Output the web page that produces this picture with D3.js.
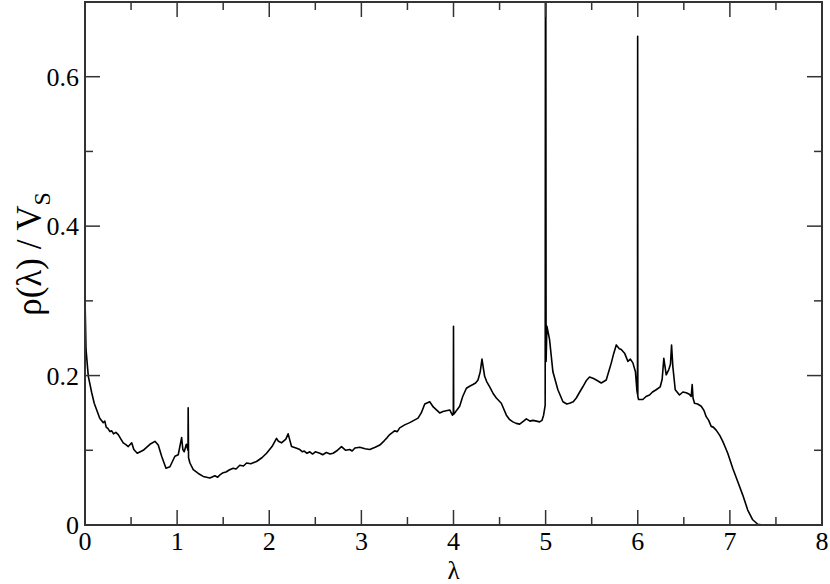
<!DOCTYPE html>
<html>
<head>
<meta charset="utf-8">
<script src="https://cdn.jsdelivr.net/npm/d3@7"></script>
<style>
  body { margin: 0; background: #fff; }
  svg { display: block; }
</style>
</head>
<body>
<svg width="830" height="584"></svg>
<script>
// spectral density
var lambda = [
  0, 0.011, 0.036, 0.073, 0.10, 0.127, 0.16, 0.198, 0.215, 0.23, 0.25, 0.271, 0.29, 0.31, 0.335, 0.361, 0.39, 0.415, 0.44, 0.470, 0.507,
  0.53, 0.567, 0.60, 0.632, 0.705, 0.759, 0.795, 0.832, 0.879, 0.922, 0.976, 1.012, 1.049, 1.062, 1.077,
  1.10, 1.118, 1.120, 1.124, 1.139, 1.175, 1.23, 1.283, 1.356, 1.41, 1.44, 1.464, 1.50, 1.53, 1.57, 1.608, 1.64, 1.68, 1.72, 1.754,
  1.80, 1.862, 1.92, 1.971, 2.03, 2.079, 2.10, 2.133, 2.18, 2.205, 2.242, 2.29, 2.332, 2.36, 2.38, 2.41, 2.440,
  2.47, 2.50, 2.549, 2.58, 2.62, 2.66, 2.693, 2.73, 2.784, 2.83, 2.874, 2.90, 2.93, 2.983, 3.04, 3.091, 3.15, 3.200, 3.25,
  3.28, 3.308, 3.36, 3.39, 3.416, 3.47, 3.525, 3.57, 3.615, 3.65, 3.688, 3.742, 3.78, 3.815, 3.85, 3.886, 3.92,
  3.959, 3.988, 3.998, 4.000, 4.002, 4.013, 4.067, 4.10, 4.140, 4.18, 4.211, 4.24, 4.266, 4.29, 4.309,
  4.338, 4.36, 4.393, 4.43, 4.465, 4.519, 4.574, 4.61, 4.645, 4.68, 4.718, 4.75, 4.791, 4.83, 4.862,
  4.90, 4.935, 4.96, 4.978, 4.995, 4.998, 5.002, 5.005, 5.014, 5.043, 5.079, 5.133, 5.188, 5.23, 5.260,
  5.30, 5.333, 5.37, 5.404, 5.44, 5.477, 5.52, 5.550, 5.604, 5.658, 5.713, 5.74, 5.767, 5.80,
  5.821, 5.857, 5.893, 5.92, 5.947, 5.975, 5.990, 5.997, 5.999, 6.001, 6.009, 6.055, 6.09, 6.128,
  6.16, 6.200, 6.244, 6.265, 6.283, 6.309, 6.337, 6.355, 6.367, 6.381, 6.407, 6.453, 6.49, 6.526,
  6.56, 6.580, 6.591, 6.600, 6.616, 6.65, 6.689, 6.72, 6.743, 6.77, 6.797, 6.82, 6.851, 6.89, 6.923, 6.95, 6.977, 7.031,
  7.086, 7.140, 7.194, 7.248, 7.303, 7.357
];
var rho = [
  0.304, 0.235, 0.199, 0.177, 0.163, 0.154, 0.143, 0.137, 0.139, 0.131, 0.129, 0.125, 0.126, 0.122, 0.124, 0.121, 0.115, 0.110, 0.108, 0.105, 0.110,
  0.101, 0.096, 0.098, 0.100, 0.108, 0.112, 0.107, 0.092, 0.076, 0.078, 0.092, 0.094, 0.117, 0.101, 0.098,
  0.108, 0.100, 0.157, 0.090, 0.083, 0.074, 0.069, 0.065, 0.063, 0.066, 0.064, 0.067, 0.070, 0.071, 0.074, 0.076, 0.075, 0.080, 0.079, 0.083,
  0.082, 0.085, 0.090, 0.096, 0.105, 0.116, 0.112, 0.110, 0.115, 0.122, 0.105, 0.103, 0.101, 0.098, 0.099, 0.096, 0.098,
  0.095, 0.098, 0.096, 0.094, 0.097, 0.095, 0.096, 0.099, 0.105, 0.100, 0.101, 0.099, 0.103, 0.104, 0.102, 0.101, 0.104, 0.107, 0.113,
  0.117, 0.121, 0.126, 0.125, 0.130, 0.134, 0.137, 0.140, 0.143, 0.150, 0.162, 0.165, 0.158, 0.154, 0.150, 0.152, 0.153,
  0.154, 0.147, 0.150, 0.266, 0.148, 0.150, 0.159, 0.172, 0.183, 0.186, 0.188, 0.190, 0.194, 0.205, 0.222,
  0.199, 0.192, 0.185, 0.176, 0.170, 0.163, 0.147, 0.141, 0.138, 0.136, 0.135, 0.138, 0.142, 0.139, 0.140,
  0.139, 0.138, 0.140, 0.147, 0.160, 0.760, 0.760, 0.219, 0.266, 0.248, 0.205, 0.181, 0.165, 0.162, 0.163,
  0.165, 0.170, 0.178, 0.185, 0.193, 0.198, 0.196, 0.194, 0.190, 0.194, 0.217, 0.230, 0.241, 0.236,
  0.235, 0.230, 0.219, 0.222, 0.217, 0.205, 0.181, 0.175, 0.654, 0.172, 0.168, 0.168, 0.172, 0.174,
  0.178, 0.181, 0.185, 0.195, 0.223, 0.201, 0.208, 0.215, 0.241, 0.212, 0.181, 0.174, 0.178, 0.177,
  0.175, 0.172, 0.188, 0.170, 0.163, 0.162, 0.159, 0.153, 0.145, 0.140, 0.132, 0.131, 0.127, 0.120, 0.112, 0.104, 0.096, 0.076,
  0.058, 0.040, 0.020, 0.007, 0.001, 0.000
];
var xTicks = [0, 1, 2, 3, 4, 5, 6, 7, 8];
var yTicks = [0, 0.2, 0.4, 0.6];

var serif = "'Liberation Serif', 'Times New Roman', Times, 'DejaVu Serif', serif";

var svg = d3.select("svg");
var margin = {left: 85, right: 8, top: 2, bottom: 59};
var width = 830 - margin.left - margin.right,
    height = 584 - margin.top - margin.bottom;

var x = d3.scaleLinear().domain([0, 8]).range([0, width]);
var y = d3.scaleLinear().domain([0, 0.7]).range([height, 0]);

var g = svg.append("g").attr("transform", "translate(" + margin.left + "," + margin.top + ")");

g.append("clipPath").attr("id", "clip")
    .append("rect").attr("width", width).attr("height", height);

var points = lambda.map(function (l, i) { return [l, rho[i]]; });

var line = d3.line()
    .x(function (d) { return x(d[0]); })
    .y(function (d) { return y(d[1]); });

g.append("path")
    .datum(points)
    .attr("clip-path", "url(#clip)")
    .attr("fill", "none")
    .attr("stroke", "#000")
    .attr("stroke-width", 1.6)
    .attr("stroke-linejoin", "round")
    .attr("d", line);

// ticks pointing inward on all four sides
var tickColor = "#333";
var xMinor = d3.range(0.5, 8, 1);
var yMinor = [0.1, 0.3, 0.5];

function vTicks(vals, len) {
    vals.forEach(function (v) {
        g.append("line").attr("x1", x(v)).attr("x2", x(v)).attr("y1", height).attr("y2", height - len)
            .attr("stroke", tickColor).attr("stroke-width", 1.5);
        g.append("line").attr("x1", x(v)).attr("x2", x(v)).attr("y1", 0).attr("y2", len)
            .attr("stroke", tickColor).attr("stroke-width", 1.5);
    });
}
function hTicks(vals, len) {
    vals.forEach(function (v) {
        g.append("line").attr("x1", 0).attr("x2", len).attr("y1", y(v)).attr("y2", y(v))
            .attr("stroke", tickColor).attr("stroke-width", 1.5);
        g.append("line").attr("x1", width).attr("x2", width - len).attr("y1", y(v)).attr("y2", y(v))
            .attr("stroke", tickColor).attr("stroke-width", 1.5);
    });
}
vTicks(xTicks.slice(1, -1), 15);
vTicks(xMinor, 8);
hTicks(yTicks.slice(1), 15);
hTicks(yMinor, 8);

g.append("rect")
    .attr("width", width).attr("height", height)
    .attr("fill", "none").attr("stroke", tickColor).attr("stroke-width", 2);

g.selectAll(".xl").data(xTicks).enter().append("text")
    .attr("font-family", serif).attr("font-size", 26)
    .attr("x", function (d) { return x(d); })
    .attr("y", height + 25)
    .attr("text-anchor", "middle")
    .text(function (d) { return d; });

g.selectAll(".yl").data(yTicks).enter().append("text")
    .attr("font-family", serif).attr("font-size", 26)
    .attr("x", -6)
    .attr("y", function (d) { return y(d) + 9; })
    .attr("text-anchor", "end")
    .text(function (d) { return d === 0 ? "0" : d3.format(".1f")(d); });

g.append("text")
    .attr("font-family", serif).attr("font-size", 25)
    .attr("x", width / 2)
    .attr("y", height + 54)
    .attr("text-anchor", "middle")
    .text("λ");

var yl = svg.append("text")
    .attr("font-family", serif)
    .attr("transform", "translate(41,254) rotate(-90)")
    .attr("text-anchor", "middle")
    .attr("font-size", 35);
yl.append("tspan").text("ρ(λ) / V");
yl.append("tspan").attr("font-size", 24).attr("dy", 9).text("S");
</script>
</body>
</html>
